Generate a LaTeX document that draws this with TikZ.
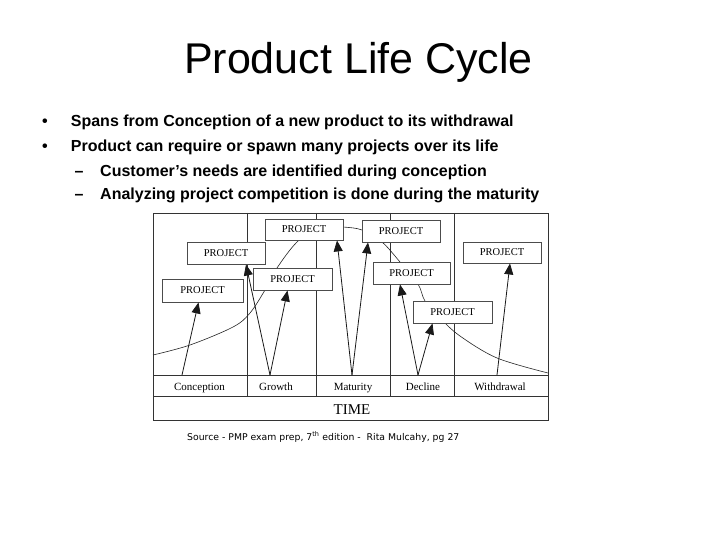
\documentclass[tikz,border=0pt]{standalone}
\usepackage{fontspec}
\setmainfont{Liberation Sans}
\newfontfamily\diagfont{Liberation Serif}
\newfontfamily\srcfont{DejaVu Sans}
\usetikzlibrary{arrows.meta}
\begin{document}
\begin{tikzpicture}[x=1pt,y=-1pt,
  proj/.style={draw=black!70, line width=0.9pt, fill=white, minimum width=78pt,
    minimum height=22pt, inner sep=0pt, text height=6.9pt, text depth=0pt,
    font=\diagfont\fontsize{10.5}{12}\selectfont},
  frameline/.style={draw=black!80, line width=0.8pt},
  curveline/.style={draw=black!85, line width=0.6pt},
  arr/.style={draw=black!90, line width=0.8pt, -{Triangle[length=11pt,width=9pt]}},
  lbl/.style={font=\diagfont\fontsize{11}{13}\selectfont, inner sep=0pt, anchor=base},
  bodytext/.style={font=\bfseries\fontsize{16}{19}\selectfont, anchor=base west, inner sep=0pt},
  bul/.style={font=\bfseries\fontsize{16}{19}\selectfont, anchor=base, inner sep=0pt}]
\useasboundingbox (0,0) rectangle (720,540);
\fill[white] (0,0) rectangle (720,540);

% title and text
\node[anchor=base, inner sep=0pt, font=\fontsize{43}{50}\selectfont] (title) at (358.5,74) {Product Life Cycle};
\node[bul] (b1) at (45,126.5) {•};
\node[bodytext] (t1) at (70.7,126.5) {Spans from Conception of a new product to its withdrawal};
\node[bul] (b2) at (45,151.5) {•};
\node[bodytext] (t2) at (70.7,151.5) {Product can require or spawn many projects over its life};
\node[bul] (d1) at (79,176.5) {–};
\node[bodytext] (t3) at (100,176.5) {Customer’s needs are identified during conception};
\node[bul] (d2) at (79,200) {–};
\node[bodytext] (t4) at (100,200) {Analyzing project competition is done during the maturity};

% frame
\draw[frameline] (153,213) rectangle (548,420);
\draw[frameline] (153,375) -- (548,375);
\draw[frameline] (153,396) -- (548,396);
\foreach \xx in {247,316,390,454} \draw[frameline] (\xx,213) -- (\xx,396);

% life cycle curve
\draw[curveline] plot[smooth, tension=0.55] coordinates {(153,355) (190,345) (233,327) (250,313) (265,290) (277,268) (297,242) (320,226) (343,227) (362,230) (382,242) (400,262) (418,284) (425,301) (440,318) (460,336) (497,358) (548,373)};

% labels
\node[lbl] (conc) at (199.5,390) {Conception};
\node[lbl] (grow) at (276,390) {Growth};
\node[lbl] (matu) at (353,390) {Maturity};
\node[lbl] (decl) at (423,390) {Decline};
\node[lbl] (withd) at (500,390) {Withdrawal};
\node[font=\diagfont\fontsize{15}{17}\selectfont, inner sep=0pt, anchor=base] (time) at (352,414) {TIME};

% valley points
\coordinate (v1) at (182,375);
\coordinate (v2) at (270,375);
\coordinate (v3) at (352,375);
\coordinate (v4) at (418,375);
\coordinate (v5) at (497,375);

% project boxes
\node[proj, minimum height=21pt] (B1) at (304,229.5) {PROJECT};
\node[proj] (B2) at (401,231) {PROJECT};
\node[proj] (B3) at (226,253) {PROJECT};
\node[proj, minimum width=79pt] (B4) at (292.5,279) {PROJECT};
\node[proj, minimum width=81pt, minimum height=23pt] (B5) at (202.5,290.5) {PROJECT};
\node[proj, minimum width=77pt] (B6) at (411.5,273) {PROJECT};
\node[proj, minimum height=21pt] (B7) at (502,252.5) {PROJECT};
\node[proj, minimum width=79pt] (B8) at (452.5,312) {PROJECT};

% arrows
\draw[arr] (v1) -- ([xshift=-4pt]B5.south);
\draw[arr] (v2) -- ([xshift=20pt]B3.south);
\draw[arr] (v2) -- ([xshift=-5pt]B4.south);
\draw[arr] (v3) -- ([xshift=33pt]B1.south);
\draw[arr] (v3) -- ([xshift=-33pt]B2.south);
\draw[arr] (v4) -- ([xshift=-11.5pt]B6.south);
\draw[arr] (v4) -- ([xshift=-20pt]B8.south);
\draw[arr] (v5) -- ([xshift=8pt]B7.south);

% source
\node[anchor=base west, inner sep=0pt, font=\srcfont\fontsize{9.3}{11}\selectfont] (src) at (187,440) {Source - PMP exam prep, 7\textsuperscript{th} edition -\ \ Rita Mulcahy, pg 27};
\end{tikzpicture}
\end{document}
